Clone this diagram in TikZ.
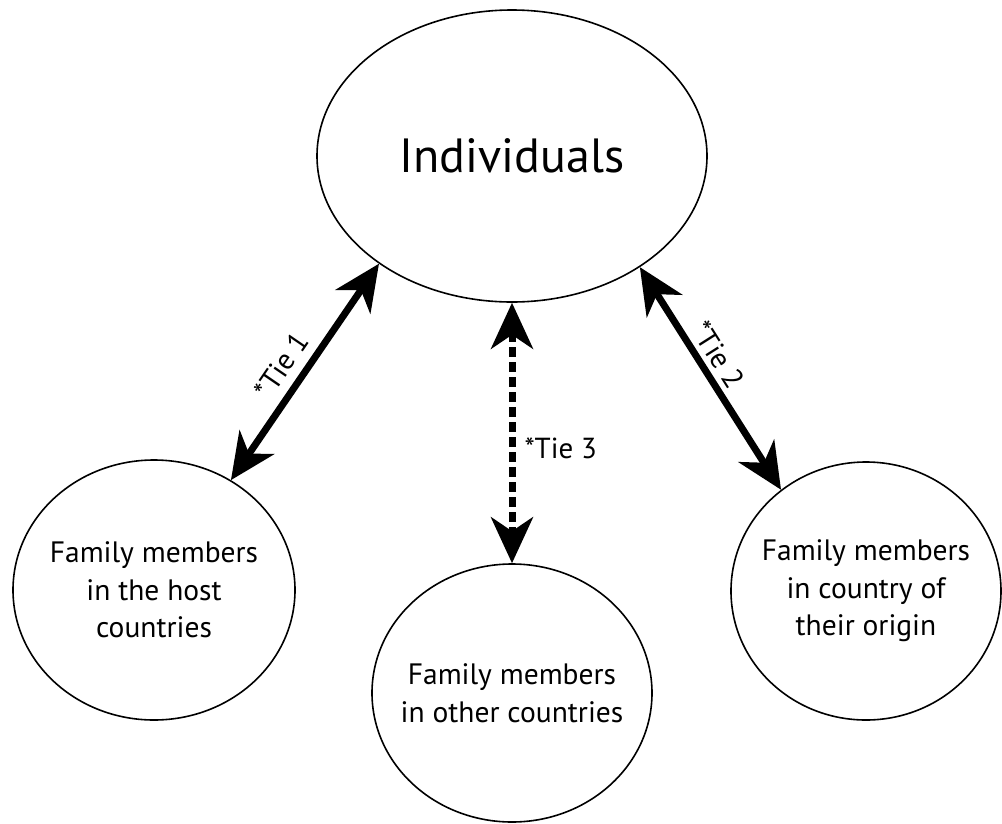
\documentclass[tikz,border=0pt]{standalone}
\usepackage{fontspec}
\setmainfont{PT Sans}
\usetikzlibrary{shapes.geometric,arrows.meta}
\begin{document}
\begin{tikzpicture}[x=1pt,y=-1pt,
  bubble/.style={draw=black, line width=1.6pt, ellipse, inner xsep=-25pt, inner ysep=-10pt, align=center,
    font=\fontsize{29.5}{37.5}\selectfont},
  tie/.style={line width=7pt, {Stealth[length=46pt,width=42pt,inset=14pt]}-{Stealth[length=46pt,width=42pt,inset=14pt]}},
  tielabel/.style={inner sep=0pt, font=\fontsize{29}{32}\selectfont}]
\useasboundingbox (0,0) rectangle (1002,823);
\node[bubble, minimum width=390pt, minimum height=292pt, font=\fontsize{48}{58}\selectfont] (ind) at (512,156) {Individuals};
\node[bubble, minimum width=282pt, minimum height=260pt] (lt) at (154,590) {Family members\\in the host\\countries};
\node[bubble, minimum width=280pt, minimum height=258pt] (mid) at (512,693) {Family members\\in other countries};
\node[bubble, minimum width=270pt, minimum height=258pt] (rt) at (866,591) {Family members\\in country of\\their origin};
\draw[tie] (lt.55.4) -- node[tielabel, sloped, pos=0.47, above=9pt] {*Tie 1} (ind.219.6);
\draw[tie] (ind.319.5) -- node[tielabel, sloped, pos=0.44, above=5pt] {*Tie 2} (rt.130.1);
\draw[tie, dash pattern=on 10pt off 5pt] (ind.270) -- node[tielabel, pos=0.56, right=9pt] {*Tie 3} (mid.90);
\end{tikzpicture}
\end{document}
